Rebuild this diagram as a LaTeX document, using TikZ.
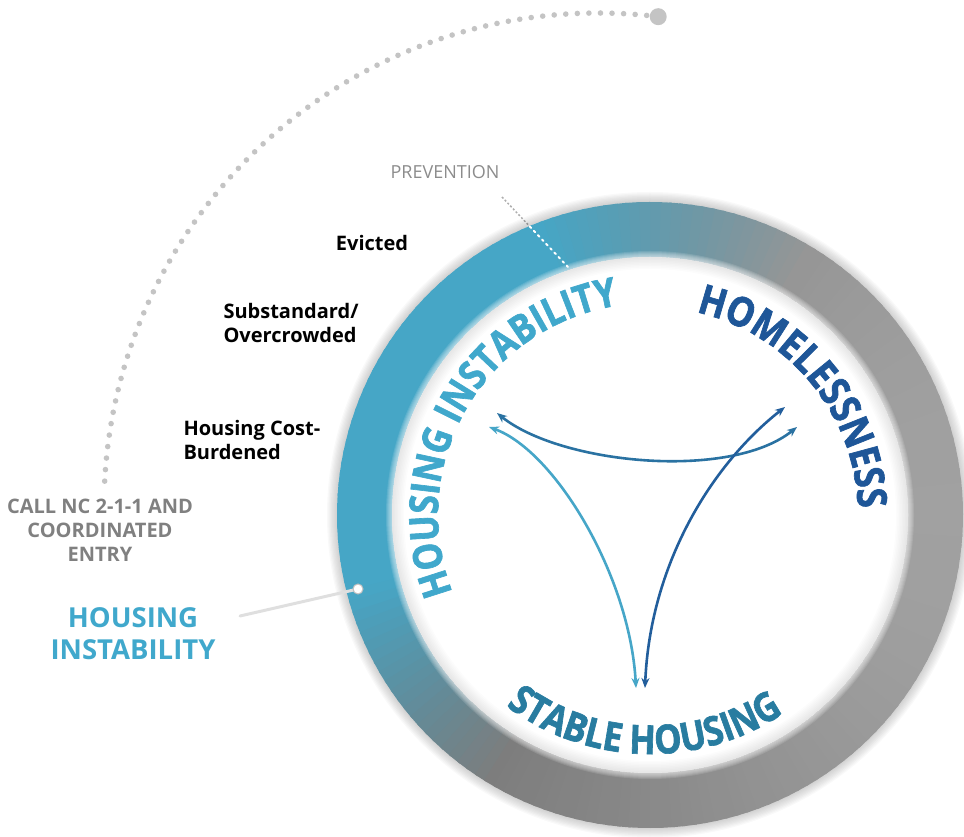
\documentclass[tikz,border=0pt]{standalone}
\usepackage{fontspec}
\setmainfont{Open Sans}
\newfontfamily\ringfont[FakeStretch=0.86, BoldFeatures={FakeBold=1.6}]{Open Sans}
\usepackage{tikz}
\usetikzlibrary{positioning, arrows.meta, decorations.text, calc}

\definecolor{ringblue}{RGB}{70,166,198}
\definecolor{instab}{RGB}{64,168,204}
\definecolor{homeless}{RGB}{30,86,152}
\definecolor{stable}{RGB}{40,124,160}
\definecolor{labelgray}{RGB}{128,128,128}
\definecolor{prevgray}{RGB}{140,140,140}
\definecolor{dotgray}{RGB}{196,196,196}
\definecolor{arrowteal}{RGB}{70,166,200}
\definecolor{arrowmid}{RGB}{42,114,162}
\definecolor{arrowdark}{RGB}{34,94,156}

\tikzset{
	stage/.style={font=\bfseries\fontsize{20}{24}\selectfont, align=left},
	flow/.style={line width=2.6pt, {Stealth[length=10pt,width=8pt]}-{Stealth[length=10pt,width=8pt]}},
}

\begin{document}
\begin{tikzpicture}[x=1pt, y=1pt]
	\useasboundingbox (0,0) rectangle (964,836);
	\coordinate (C) at (650,321);
	\coordinate (arcC) at (598,329);
	
	% Dotted path round the circle
	\foreach \i in {0,...,70}
		\fill[dotgray] ([shift={({83+\i*94/70}:494)}]arcC) circle (2.8);
	\fill[dotgray] ([shift={(83:494)}]arcC) circle (8.5);
	
	% Prevention marker
	\coordinate (prevA) at (502,639);
	\coordinate (prevB) at (568,569);
	\draw[prevgray!70, line width=1.5pt, dash pattern=on 2pt off 2pt] (prevA) -- (prevB);
	
	% Soft shadow of the ring
	\foreach \k in {1,...,8}
		\draw[black, opacity=0.025, line width=\k*2.5pt] (C) circle (313);
	
	% Ring, blue on the left fading to gray
	\begin{scope}[shift={(650,321)}]
		\foreach \a in {0,2,...,358}{
			\pgfmathsetmacro\p{100*max(0,min(1,(\a-58)/52,(238-\a)/45))}
			\pgfmathsetmacro\g{0.54+0.09*cos(\a)}
			\definecolor{ringgray}{gray}{\g}
			\colorlet{ringc}{ringblue!\p!ringgray}
			\fill[ringc] (\a:258) arc[start angle=\a, end angle=\a+2.6, radius=258]
				-- ({\a+2.6}:313) arc[start angle=\a+2.6, end angle=\a, radius=313] -- cycle;
		}
	\end{scope}
	
	% White disc with a soft edge
	\foreach \k in {1,...,6}
		\draw[white, opacity=0.12, line width=\k*2pt] (C) circle (258);
	\fill[white] (C) circle (258);
	\begin{scope}
		\clip (C) circle (258);
		\foreach \k in {1,...,8}
			\draw[black, opacity=0.012, line width=\k*3pt] (C) circle (258);
	\end{scope}
	
	\draw[white, line width=2pt, dash pattern=on 2pt off 4pt, line cap=round] ($(prevA)!0.42!(prevB)$) -- (prevB);
	
	% Words along the circle
	\path[decorate, decoration={text along path, text align=center, text color=instab,
		text={|\ringfont\bfseries\fontsize{40}{40}\selectfont|HOUSING INSTABILITY}}]
		([shift={(240:212)}]C) arc[start angle=240, end angle=60, radius=212];
	\path[decorate, decoration={text along path, text align=center, text color=homeless,
		text={|\ringfont\bfseries\fontsize{41}{41}\selectfont|HOMELESSNESS}}]
		([shift={(129.5:208)}]C) arc[start angle=129.5, end angle=-50.5, radius=208];
	\path[decorate, decoration={text along path, text align=center, text color=stable,
		text={|\ringfont\bfseries\fontsize{40}{40}\selectfont|STABLE HOUSING}}]
		([shift={(178.5:239)}]C) arc[start angle=178.5, end angle=358.5, radius=239];
	
	% Arrows between the three states
	\coordinate (instabA) at (497,423);
	\coordinate (instabB) at (489,409);
	\coordinate (homeA) at (785,429);
	\coordinate (homeB) at (797,409);
	\coordinate (stableA) at (636,148);
	\coordinate (stableB) at (645,148);
	\draw[flow, arrowmid] (instabA) .. controls (560,372) and (730,355) .. (homeB);
	\draw[flow, arrowteal] (stableA) .. controls (630,260) and (555,385) .. (instabB);
	\draw[flow, arrowdark] (stableB) .. controls (650,270) and (710,370) .. (homeA);
	
	% Labels
	\node[font=\fontsize{18}{18}\selectfont, text=prevgray] (prevention) at (445,664) {PREVENTION};
	\node[stage] (evicted) at (372,593) {Evicted};
	\node[stage, anchor=west] (substandard) at (220,513) {Substandard/\\Overcrowded};
	\node[stage, anchor=west] (costburden) at (180,396) {Housing Cost-\\Burdened};
	\node[stage, align=center, text=labelgray] (call) at (100,306) {CALL NC 2-1-1 AND\\COORDINATED\\ENTRY};
	\node[font=\bfseries\fontsize{27.5}{32}\selectfont, align=center, text=instab] (instability) at (133,202) {HOUSING\\INSTABILITY};
	
	% Pointer to the ring
	\coordinate (ptrA) at (240,220);
	\coordinate (ptrB) at (358,247);
	\draw[gray!25, line width=3pt, line cap=round] (ptrA) -- (ptrB);
	\filldraw[fill=white, draw=gray!50, line width=1pt] (ptrB) circle (5);
\end{tikzpicture}
\end{document}
